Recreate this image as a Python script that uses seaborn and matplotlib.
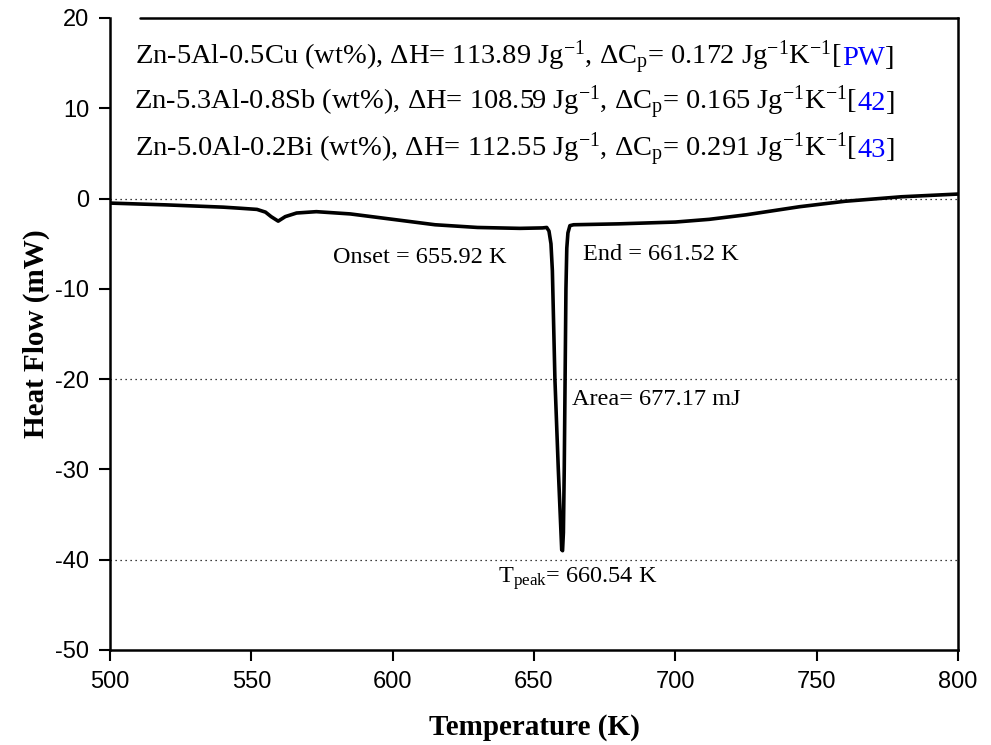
import matplotlib
matplotlib.use("Agg")
import matplotlib.pyplot as plt
import matplotlib.transforms as mtransforms
import seaborn as sns
import pandas as pd

# DSC heating curve
temperature = [500, 520, 540, 546, 552, 555, 557, 559.5, 562, 566, 573, 585, 600,
               615, 630, 645, 653, 654.5, 655.3, 656.0, 656.5, 657.4, 658.6, 659.8,
               660.1, 660.4, 660.7, 661.0, 661.3, 661.6, 662.0, 662.7, 664, 680,
               700, 712, 725, 744, 760, 780, 800]
heat_flow = [-0.5, -0.7, -0.95, -1.07, -1.2, -1.5, -2.0, -2.5, -2.0, -1.6, -1.45,
             -1.7, -2.3, -2.9, -3.2, -3.3, -3.25, -3.2, -3.6, -5.0, -8.0, -20.0,
             -30.0, -38.9, -39.0, -37.0, -30.0, -20.0, -10.0, -5.5, -3.8, -3.0,
             -2.9, -2.8, -2.6, -2.3, -1.8, -0.9, -0.3, 0.2, 0.5]

y_ticks = [-50, -40, -30, -20, -10, 0, 10, 20]
x_ticks = [500, 550, 600, 650, 700, 750, 800]
grid_levels = [0, -20, -40]

alloys = ["Zn-5Al-0.5Cu", "Zn-5.3Al-0.8Sb", "Zn-5.0Al-0.2Bi"]
delta_h = ["113.89", "108.59", "112.55"]
delta_cp = ["0.172", "0.165", "0.291"]
refs = ["PW", "42", "43"]

sns.set_theme(style="white")
plt.rcParams.update({
    'axes.unicode_minus': False,
    'mathtext.fontset': 'custom',
    'mathtext.rm': 'Liberation Serif',
    'mathtext.it': 'Liberation Serif:italic',
    'mathtext.bf': 'Liberation Serif:bold',
    'text.color': 'black',
    'axes.labelcolor': 'black',
    'xtick.color': 'black',
    'ytick.color': 'black',
})
plt.rcParams['font.family'] = ['Liberation Serif', 'DejaVu Sans']

df = pd.DataFrame({'T': temperature, 'HF': heat_flow})

fig = plt.figure(figsize=(9.91, 7.45), dpi=100)
ax = fig.add_axes([110 / 991, 1 - 650 / 745, 848 / 991, 632 / 745])

sns.lineplot(data=df, x='T', y='HF', ax=ax, color='black', linewidth=2.6,
             estimator=None, sort=False)

for lvl in grid_levels:
    ax.axhline(lvl, color='black', linestyle=(0, (1, 3)), linewidth=0.9, zorder=0)

ax.set_xlim(500, 800)
ax.set_ylim(-50, 20)
ax.set_xticks(x_ticks)
ax.set_yticks(y_ticks)
ax.set_xticklabels([str(v) for v in x_ticks], family='Liberation Sans', fontsize=17)
ax.set_yticklabels([str(v) for v in y_ticks], family='Liberation Sans', fontsize=17)
ax.tick_params(axis='both', direction='out', length=8, width=1.5, color='black',
               labelcolor='black', bottom=True, left=True, pad=7)

for side in ['left', 'bottom', 'right']:
    ax.spines[side].set_color('black')
    ax.spines[side].set_linewidth(1.8)
ax.spines['top'].set_visible(False)
# partial top border (box behind the legend text)
ax.axhline(20, xmin=0.035, xmax=1.0, color='black', linewidth=1.8, clip_on=False)

ax.set_xlabel('Temperature (K)', fontsize=21, fontweight='bold', labelpad=15)
ax.set_ylabel('Heat Flow (mW)', fontsize=21, fontweight='bold', labelpad=4)

# annotations
ax.text(578.9, -7.1, 'Onset = 655.92 K', fontsize=17.5, ha='left', va='baseline')
ax.text(667.3, -6.8, 'End = 661.52 K', fontsize=17.5, ha='left', va='baseline')
ax.text(663.4, -22.9, 'Area= 677.17 mJ', fontsize=17.5, ha='left', va='baseline')
ax.text(637.2, -42.6, r'T$_\mathregular{peak}$= 660.54 K', fontsize=17.5,
        ha='left', va='baseline')

# header lines with a blue reference tag, laid out in pixels
renderer = fig.canvas.get_renderer()
baselines_px = [65, 110, 157]
center_px = 515
ident = mtransforms.IdentityTransform()
for alloy, dh, dcp, ref, ypx in zip(alloys, delta_h, delta_cp, refs, baselines_px):
    black_part = (alloy + ' (wt%), \u0394H= ' + dh + r' Jg$^{\mathregular{-1}}$, '
                  + '\u0394C' + r'$_\mathregular{p}$= ' + dcp
                  + r' Jg$^{\mathregular{-1}}$K$^{\mathregular{-1}}$[')
    parts = [(black_part, 'black'), (ref, 'blue'), (']', 'black')]
    texts = []
    for s, c in parts:
        t = fig.text(0, 745 - ypx, s, fontsize=20.5, color=c, ha='left',
                     va='baseline', transform=ident)
        texts.append(t)
    widths = [t.get_window_extent(renderer).width for t in texts]
    x = center_px - sum(widths) / 2
    for t, w in zip(texts, widths):
        t.set_x(x)
        x += w

fig.savefig('out.png', dpi=100, facecolor='white')
